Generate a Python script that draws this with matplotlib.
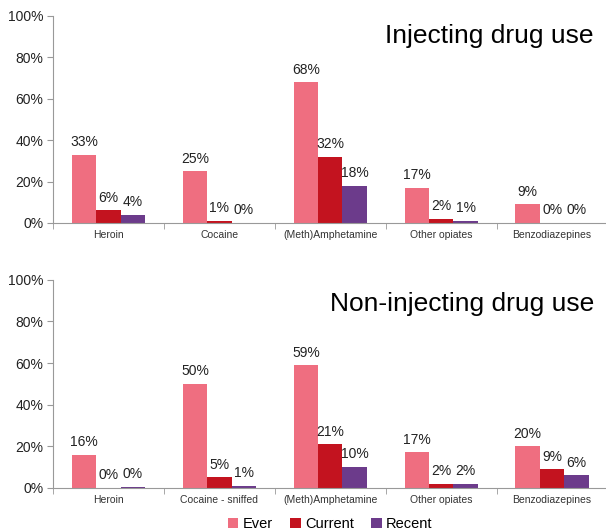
import numpy as np
import matplotlib.pyplot as plt

# categories and values (percent)
cats_inj = ['Heroin', 'Cocaine', '(Meth)Amphetamine', 'Other opiates', 'Benzodiazepines']
cats_non = ['Heroin', 'Cocaine - sniffed', '(Meth)Amphetamine', 'Other opiates', 'Benzodiazepines']

inj_ever = [33, 25, 68, 17, 9]
inj_current = [6, 1, 32, 2, 0]
inj_recent = [4, 0, 18, 1, 0]

non_ever = [16, 50, 59, 17, 20]
non_current = [0, 5, 21, 2, 9]
non_recent = [0.4, 1, 10, 2, 6]

series_names = ['Ever', 'Current', 'Recent']
colors = ['#EF6E80', '#C3131F', '#6C3B8B']
yticks = [0, 20, 40, 60, 80, 100]

plt.rcParams['font.family'] = ['Liberation Sans', 'DejaVu Sans']

fig = plt.figure(figsize=(6.06, 5.32), dpi=100)
ax1 = fig.add_axes([0.0875, 0.581, 0.915, 0.389])
ax2 = fig.add_axes([0.0875, 0.083, 0.915, 0.391])


def draw_panel(ax, cats, ever, current, recent, title, title_y):
    x = np.arange(len(cats))
    w = 0.22
    bars = []
    for i, (vals, col, name) in enumerate(zip([ever, current, recent], colors, series_names)):
        b = ax.bar(x + (i - 1) * w, vals, width=w, color=col, label=name)
        bars.append(b)
        for xi, v in zip(x, vals):
            ax.annotate(f'{v:.0f}%', (xi + (i - 1) * w, v), xytext=(0, 4),
                        textcoords='offset points', ha='center', va='bottom',
                        fontsize=10, color='#222222')
    ax.set_xlim(-0.5, len(cats) - 0.5)
    ax.set_ylim(0, 100)
    ax.set_yticks(yticks)
    ax.set_yticklabels([f'{t}%' for t in yticks], fontsize=10, color='#222222')
    ax.set_xticks(x)
    ax.set_xticklabels(cats, fontsize=7.5, color='#333333')
    ax.tick_params(axis='x', length=0, pad=5)
    ax.set_xticks(np.arange(len(cats) + 1) - 0.5, minor=True)
    ax.tick_params(axis='x', which='minor', length=4, color='#999999', direction='out')
    ax.tick_params(axis='y', length=4, color='#999999', pad=3)
    for s in ['top', 'right']:
        ax.spines[s].set_visible(False)
    for s in ['left', 'bottom']:
        ax.spines[s].set_color('#999999')
        ax.spines[s].set_linewidth(0.8)
    fig.text(0.98, title_y, title, ha='right', va='center', fontsize=19, color='black')
    return bars


draw_panel(ax1, cats_inj, inj_ever, inj_current, inj_recent, 'Injecting drug use', 1 - 36 / 532)
bars = draw_panel(ax2, cats_non, non_ever, non_current, non_recent, 'Non-injecting drug use', 1 - 304 / 532)

fig.legend(handles=bars, labels=series_names, loc='center', bbox_to_anchor=(0.545, 1 - 524 / 532),
           ncol=3, frameon=False, fontsize=10.5, handlelength=0.7, handleheight=0.7,
           handletextpad=0.3, columnspacing=1.2)

fig.savefig('out.png', dpi=100)
